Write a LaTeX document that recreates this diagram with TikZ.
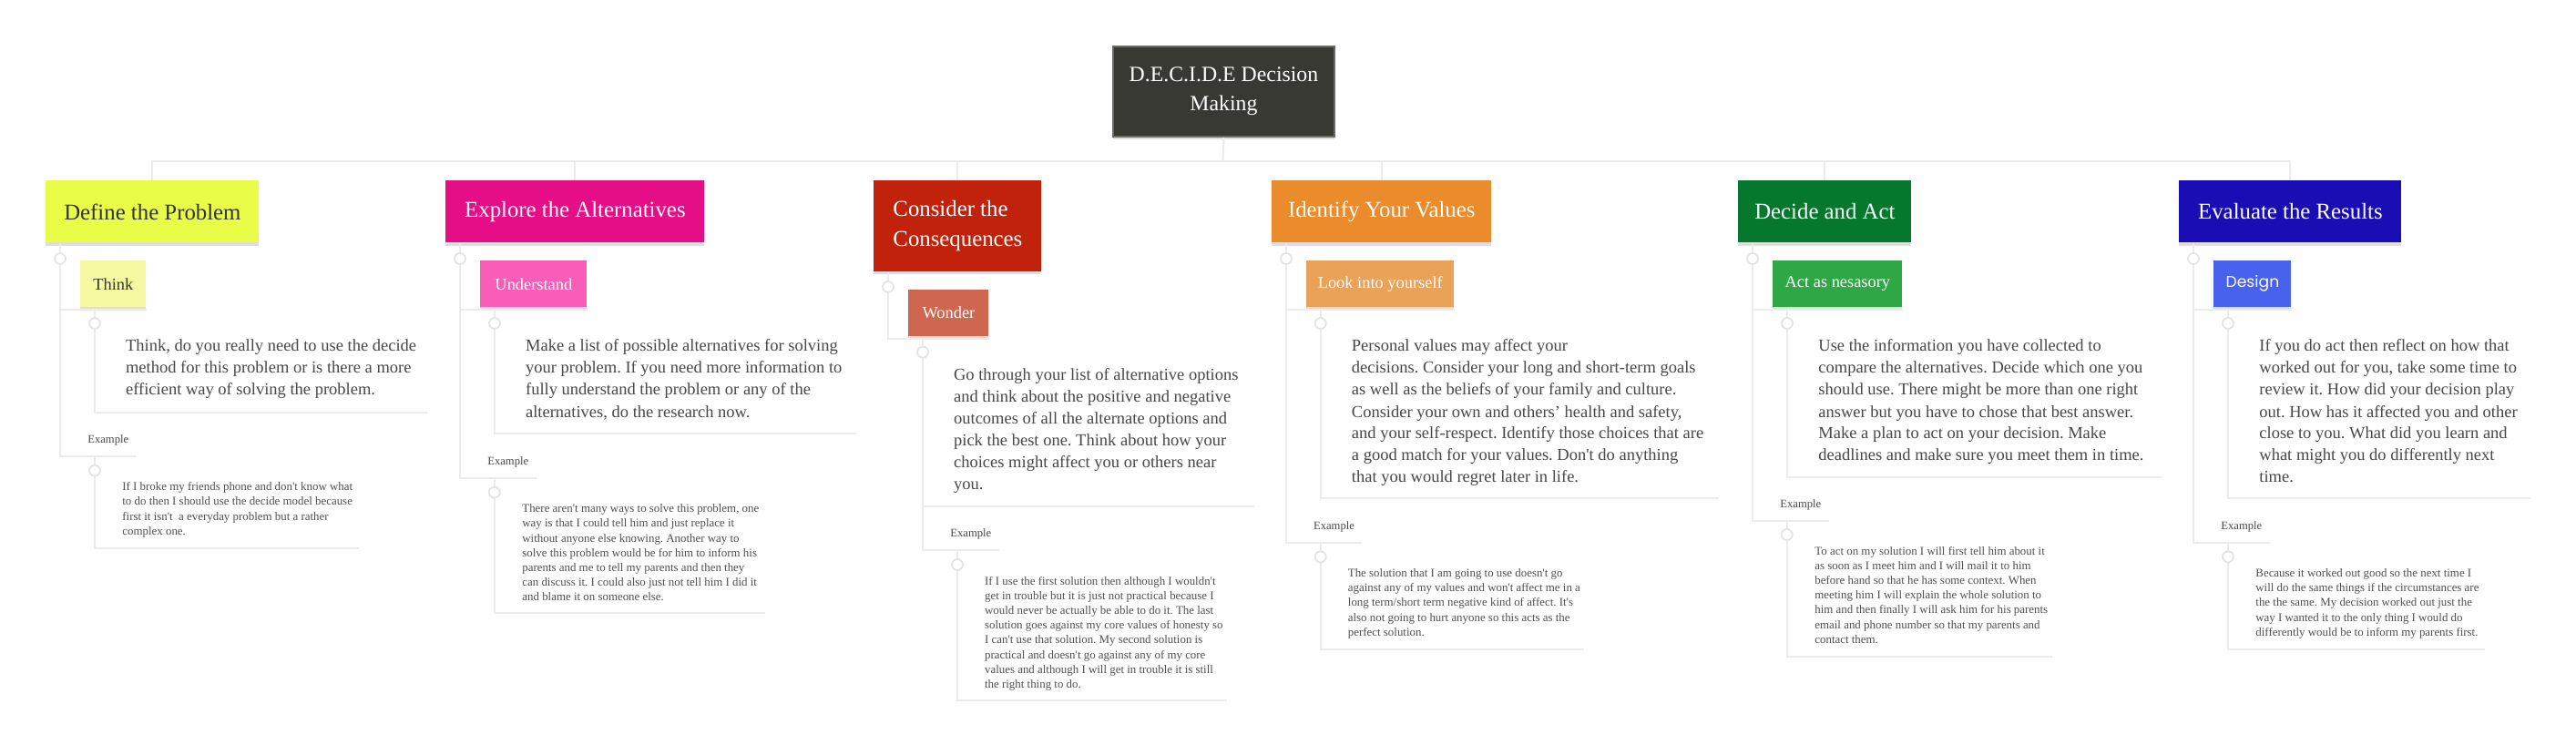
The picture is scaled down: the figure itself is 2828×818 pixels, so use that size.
\documentclass[tikz,border=0pt]{standalone}
\usepackage{fontspec}
\setmainfont{Liberation Serif}[Ligatures=TeXOff]
\newfontfamily\popfont{Poppins}
\usetikzlibrary{shadows}
\definecolor{linec}{HTML}{EBEBEB}
\definecolor{knobc}{HTML}{E4E4E4}
\definecolor{rootc}{HTML}{393934}
\definecolor{rootb}{HTML}{6B6B66}
\definecolor{defc}{HTML}{E9FC48}
\definecolor{thinkc}{HTML}{F7F9A2}
\definecolor{expc}{HTML}{E60E87}
\definecolor{undc}{HTML}{F95DB8}
\definecolor{conc}{HTML}{C0220B}
\definecolor{wonc}{HTML}{CF6650}
\definecolor{idc}{HTML}{EA8C2C}
\definecolor{lookc}{HTML}{E9A258}
\definecolor{decc}{HTML}{06782E}
\definecolor{actc}{HTML}{2EA844}
\definecolor{evc}{HTML}{1B0DB4}
\definecolor{desc}{HTML}{4962EE}
\definecolor{darkt}{HTML}{333333}
\definecolor{desct}{HTML}{484848}
\definecolor{ext}{HTML}{505050}
\newcommand\tb[1]{\begin{tabular}[t]{@{}l@{}}#1\end{tabular}}
\frenchspacing
\begin{document}
\frenchspacing
\begin{tikzpicture}[x=0.5pt,y=-0.5pt,
  conn/.style={draw=linec, line width=1pt},
  knob/.style={circle, draw=knobc, fill=white, line width=0.9pt, minimum size=6pt, inner sep=0pt},
  shad/.style={drop shadow={shadow xshift=0pt, shadow yshift=-1.6pt, opacity=0.13, fill=black}},
  rootbox/.style={anchor=north west, inner sep=0pt, fill=rootc, draw=rootb, line width=1pt, text=white, align=center, font=\fontsize{11.9}{16}\selectfont, shad},
  hdr/.style={anchor=north west, inner sep=0pt, text=white, align=left, font=\fontsize{12.4}{16.25}\selectfont, minimum height=34pt, shad},
  subbox/.style={anchor=north west, inner sep=0pt, text=white, font=\fontsize{9.2}{12}\selectfont, minimum height=25.35pt, shad},
  desctext/.style={anchor=base west, inner sep=0pt, text=desct, font=\fontsize{9.25}{12}\selectfont},
  extext/.style={anchor=base west, inner sep=0pt, text=ext, font=\fontsize{6.45}{8.1}\selectfont},
  exlabel/.style={anchor=base west, inner sep=0pt, text=darkt!90, font=\fontsize{6.3}{8}\selectfont}
]
\useasboundingbox[fill=white] (0,0) rectangle (2828,818);

% ---------- coordinates for free ends ----------
\coordinate (bus) at (1342.5,176.7);
\coordinate (defDescU) at (469,452.7);
\coordinate (defExU) at (149.3,501);
\coordinate (defExL) at (104,501);
\coordinate (defExTU) at (394.3,601.7);
\coordinate (expDescU) at (940,476.3);
\coordinate (expExU) at (588.7,525);
\coordinate (expExL) at (542.7,525);
\coordinate (expExTU) at (839.7,673.3);
\coordinate (conDescU) at (1376.7,556);
\coordinate (conExU) at (1096.7,604);
\coordinate (conExL) at (1051,604);
\coordinate (conExTU) at (1347,769);
\coordinate (idDescU) at (1887,547);
\coordinate (idExU) at (1495,596);
\coordinate (idExL) at (1449.7,596);
\coordinate (idExTU) at (1739,713);
\coordinate (decDescU) at (2372.7,523.6);
\coordinate (decExU) at (2007.7,571.8);
\coordinate (decExL) at (1961.7,571.8);
\coordinate (decExTU) at (2253.3,721);
\coordinate (evDescU) at (2778.7,547);
\coordinate (evExU) at (2491.7,596);
\coordinate (evExL) at (2446,596);
\coordinate (evExTU) at (2728,713);

% ---------- root and main steps ----------
\node[rootbox, minimum width=121.5pt, minimum height=49.5pt] (root) at (1221,50) {D.E.C.I.D.E Decision\\Making};

\node[hdr, fill=defc, text=darkt, minimum width=117pt] (define) at (50,198) {Define the Problem};
\node[hdr, fill=expc, minimum width=142pt] (explore) at (489,198) {Explore the Alternatives};
\node[hdr, fill=conc, minimum width=92pt, minimum height=49.75pt] (consider) at (959,198) {Consider the\\Consequences};
\node[hdr, fill=idc, minimum width=120.35pt] (identify) at (1396,198) {Identify Your Values};
\node[hdr, fill=decc, minimum width=95pt] (decide) at (1908,198) {Decide and Act};
\node[hdr, fill=evc, minimum width=122pt] (evaluate) at (2392,198) {Evaluate the Results};

\node[subbox, fill=thinkc, text=darkt, minimum width=36pt] (think) at (88,286) {Think};
\node[subbox, fill=undc, minimum width=58.5pt] (understand) at (527,286) {Understand};
\node[subbox, fill=wonc, minimum width=44pt] (wonder) at (997,318) {Wonder};
\node[subbox, fill=lookc, minimum width=81.15pt] (look) at (1433.7,286) {Look into yourself};
\node[subbox, fill=actc, minimum width=71pt] (act) at (1946,286) {Act as nesasory};
\node[subbox, fill=desc, minimum width=42.5pt, font=\popfont\fontsize{8.6}{12}\selectfont] (design) at (2430,286) {Design};

% ---------- connectors ----------
\draw[conn] (root.south) -- (bus);
\foreach \n in {define,explore,consider,identify,decide,evaluate}
  \draw[conn] (bus) -| (\n.north);

% Define
\draw[conn] ([xshift=8pt]define.south west) |- ([yshift=-1.2pt]think.south east);
\draw[conn] ([xshift=8pt]define.south west) |- (defExU);
\draw[conn] ([xshift=8pt,yshift=-1.2pt]think.south west) |- (defDescU);
\draw[conn] (defExL) |- (defExTU);
% Explore
\draw[conn] ([xshift=8pt]explore.south west) |- ([yshift=-1.2pt]understand.south east);
\draw[conn] ([xshift=8pt]explore.south west) |- (expExU);
\draw[conn] ([xshift=8pt,yshift=-1.2pt]understand.south west) |- (expDescU);
\draw[conn] (expExL) |- (expExTU);
% Consider
\draw[conn] ([xshift=8pt]consider.south west) |- ([yshift=-1.2pt]wonder.south east);
\draw[conn] ([xshift=8pt,yshift=-1.2pt]wonder.south west) |- (conDescU);
\draw[conn] ([xshift=8pt,yshift=-1.2pt]wonder.south west) |- (conExU);
\draw[conn] (conExL) |- (conExTU);
% Identify
\draw[conn] ([xshift=8pt]identify.south west) |- ([yshift=-1.2pt]look.south east);
\draw[conn] ([xshift=8pt]identify.south west) |- (idExU);
\draw[conn] ([xshift=8pt,yshift=-1.2pt]look.south west) |- (idDescU);
\draw[conn] (idExL) |- (idExTU);
% Decide
\draw[conn] ([xshift=8pt]decide.south west) |- ([yshift=-1.2pt]act.south east);
\draw[conn] ([xshift=8pt]decide.south west) |- (decExU);
\draw[conn] ([xshift=8pt,yshift=-1.2pt]act.south west) |- (decDescU);
\draw[conn] (decExL) |- (decExTU);
% Evaluate
\draw[conn] ([xshift=8pt]evaluate.south west) |- ([yshift=-1.2pt]design.south east);
\draw[conn] ([xshift=8pt]evaluate.south west) |- (evExU);
\draw[conn] ([xshift=8pt,yshift=-1.2pt]design.south west) |- (evDescU);
\draw[conn] (evExL) |- (evExTU);

% ---------- knobs ----------
\node[knob] (k11) at (66,284) {};
\node[knob] (k12) at (104,355) {};
\node[knob] (k13) at (104,516.7) {};
\node[knob] (k21) at (505,284) {};
\node[knob] (k22) at (543,355) {};
\node[knob] (k23) at (542.7,540.7) {};
\node[knob] (k31) at (975,315) {};
\node[knob] (k32) at (1013,386.7) {};
\node[knob] (k33) at (1051,620) {};
\node[knob] (k41) at (1412,284) {};
\node[knob] (k42) at (1449.7,355) {};
\node[knob] (k43) at (1449.7,611.4) {};
\node[knob] (k51) at (1924,284) {};
\node[knob] (k52) at (1962,355) {};
\node[knob] (k53) at (1961.7,587) {};
\node[knob] (k61) at (2408,284) {};
\node[knob] (k62) at (2446,355) {};
\node[knob] (k63) at (2446,611.4) {};

% ---------- texts ----------
\node[desctext] (defDesc) at (137.7,386) {\tb{Think, do you really need to use the decide\\method for this problem or is there a more\\efficient way of solving the problem.}};
\node[exlabel] (defEx) at (96,486.5) {Example};
\node[extext] (defExT) at (134,538.7) {\tb{If I broke my friends phone and don't know what\\to do then I should use the decide model because\\first it isn't~ a everyday problem but a rather\\complex one.}};

\node[desctext] (expDesc) at (576.7,386) {\tb{Make a list of possible alternatives for solving\\your problem. If you need more information to\\fully understand the problem or any of the\\alternatives, do the research now.}};
\node[exlabel] (expEx) at (535,510.5) {Example};
\node[extext] (expExT) at (573,562.7) {\tb{There aren't many ways to solve this problem, one\\way is that I could tell him and just replace it\\without anyone else knowing. Another way to\\solve this problem would be for him to inform his\\parents and me to tell my parents and then they\\can discuss it. I could also just not tell him I did it\\and blame it on someone else.}};

\node[desctext] (conDesc) at (1046.7,417.7) {\tb{Go through your list of alternative options\\and think about the positive and negative\\outcomes of all the alternate options and\\pick the best one. Think about how your\\choices might affect you or others near\\you.}};
\node[exlabel] (conEx) at (1043,589.5) {Example};
\node[extext] (conExT) at (1080.7,642) {\tb{If I use the first solution then although I wouldn't\\get in trouble but it is just not practical because I\\would never be actually be able to do it. The last\\solution goes against my core values of honesty so\\I can't use that solution. My second solution is\\practical and doesn't go against any of my core\\values and although I will get in trouble it is still\\the right thing to do.}};

\node[desctext] (idDesc) at (1483.5,386) {\tb{Personal values may affect your\\decisions. Consider your long and short-term goals\\as well as the beliefs of your family and culture.\\Consider your own and others’ health and safety,\\and your self-respect. Identify those choices that are\\a good match for your values. Don't do anything\\that you would regret later in life.}};
\node[exlabel] (idEx) at (1441.7,581.5) {Example};
\node[extext] (idExT) at (1479.5,633.5) {\tb{The solution that I am going to use doesn't go\\against any of my values and won't affect me in a\\long term/short term negative kind of affect. It's\\also not going to hurt anyone so this acts as the\\perfect solution.}};

\node[desctext] (decDesc) at (1996,386) {\tb{Use the information you have collected to\\compare the alternatives. Decide which one you\\should use. There might be more than one right\\answer but you have to chose that best answer.\\Make a plan to act on your decision. Make\\deadlines and make sure you meet them in time.}};
\node[exlabel] (decEx) at (1954,557.3) {Example};
\node[extext] (decExT) at (1992,609) {\tb{To act on my solution I will first tell him about it\\as soon as I meet him and I will mail it to him\\before hand so that he has some context. When\\meeting him I will explain the whole solution to\\him and then finally I will ask him for his parents\\email and phone number so that my parents and\\contact them.}};

\node[desctext] (evDesc) at (2480,386) {\tb{If you do act then reflect on how that\\worked out for you, take some time to\\review it. How did your decision play\\out. How has it affected you and other\\close to you. What did you learn and\\what might you do differently next\\time.}};
\node[exlabel] (evEx) at (2438,581.5) {Example};
\node[extext] (evExT) at (2476,633.5) {\tb{Because it worked out good so the next time I\\will do the same things if the circumstances are\\the the same. My decision worked out just the\\way I wanted it to the only thing I would do\\differently would be to inform my parents first.}};
\end{tikzpicture}
\end{document}
